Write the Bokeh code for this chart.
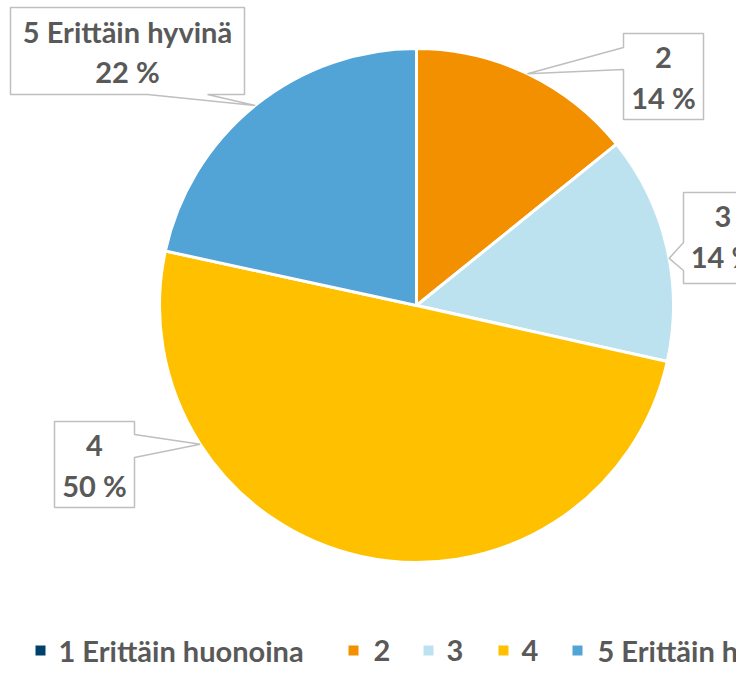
import numpy as np
from bokeh.plotting import figure
from bokeh.models import Range1d, ColumnDataSource
from bokeh.core.properties import value
from bokeh.embed import file_html
from bokeh.resources import INLINE

# ---- data ----
categories = ["1 Erittäin huonoina", "2", "3", "4", "5 Erittäin hyvinä"]
shares = [0.0, 14.2, 14.3, 49.9, 21.6]
colors = ["#00416B", "#F39000", "#BDE2EF", "#FFC000", "#52A3D6"]

# ---- layout ----
W, H = 736, 666
FONT = "Lato"
TXT = "#595959"
FS = "29px"

def px(x):
    return x

def py(y):
    return H - y

p = figure(width=W, height=H, x_range=Range1d(0, W), y_range=Range1d(0, H),
           output_backend="svg", toolbar_location=None, min_border=0,
           x_axis_location=None, y_axis_location=None)
p.grid.visible = False
p.outline_line_color = None

cx, cy, R = px(416), py(305), 257

vals = np.array(shares, dtype=float)
frac = vals / vals.sum()
cum_after = np.cumsum(frac)
cum_before = cum_after - frac
start = np.pi / 2 - 2 * np.pi * cum_before
end = np.pi / 2 - 2 * np.pi * cum_after

nz = [i for i in range(len(vals)) if vals[i] > 0]
src = ColumnDataSource(dict(
    start=[start[i] for i in nz], end=[end[i] for i in nz],
    color=[colors[i] for i in nz]))
p.wedge(x=cx, y=cy, radius=R, start_angle="start", end_angle="end",
        direction="clock", fill_color="color", line_color="white",
        line_width=3, source=src)

# ---- callout labels (box in page px, notch side/range, anchor fraction in slice) ----
callouts = {
    1: dict(box=(623, 33, 703, 119), side="left", notch=(47, 69), anchor=0.5),
    2: dict(box=(683, 192, 762, 283), side="left", notch=(242, 270), anchor=0.55),
    3: dict(box=(54, 421, 134, 507), side="right", notch=(434, 457), anchor=0.75),
    4: dict(box=(10, 7, 244, 94), side="bottom", notch=(147, 207), anchor=0.5),
}

xs, ys = [], []
tx, ty, tt = [], [], []
for i, c in callouts.items():
    x0, y0, x1, y1 = c["box"]
    a, b = c["notch"]
    th = np.pi / 2 - 2 * np.pi * (cum_before[i] + c["anchor"] * frac[i])
    tipx, tipy = cx + R * np.cos(th), cy + R * np.sin(th)
    if c["side"] == "left":
        pts = [(x0, y0), (x1, y0), (x1, y1), (x0, y1), (x0, b), None, (x0, a)]
    elif c["side"] == "right":
        pts = [(x0, y0), (x1, y0), (x1, a), None, (x1, b), (x1, y1), (x0, y1)]
    else:
        pts = [(x0, y0), (x1, y0), (x1, y1), (b, y1), None, (a, y1), (x0, y1)]
    X, Y = [], []
    for pt in pts:
        if pt is None:
            X.append(tipx); Y.append(tipy)
        else:
            X.append(px(pt[0])); Y.append(py(pt[1]))
    xs.append(X); ys.append(Y)
    mx = px((x0 + x1) / 2)
    tx += [mx, mx]
    ty += [py(y0 + 24), py(y0 + 64)]
    tt += [categories[i], f"{round(frac[i] * 100):.0f} %"]

p.patches(xs=xs, ys=ys, fill_color="white", line_color="#BFBFBF", line_width=1.5)
p.text(x=tx, y=ty, text=tt, text_font=value(FONT), text_font_style="bold",
       text_font_size=FS, text_color=TXT, text_align="center",
       text_baseline="middle")

# ---- legend ----
leg_sq_x = [35, 348, 423, 498, 572]
leg_tx_x = [58, 373, 446, 521, 597]
leg_y = 650
p.rect(x=[px(v + 5) for v in leg_sq_x], y=[py(leg_y)] * len(categories),
       width=10, height=10, fill_color=colors, line_color=None)
p.text(x=[px(v) for v in leg_tx_x], y=[py(leg_y)] * len(categories), text=categories,
       text_font=value(FONT), text_font_style="bold", text_font_size=FS,
       text_color=TXT, text_align="left", text_baseline="middle")

open("out.html", "w").write(file_html(p, INLINE))
